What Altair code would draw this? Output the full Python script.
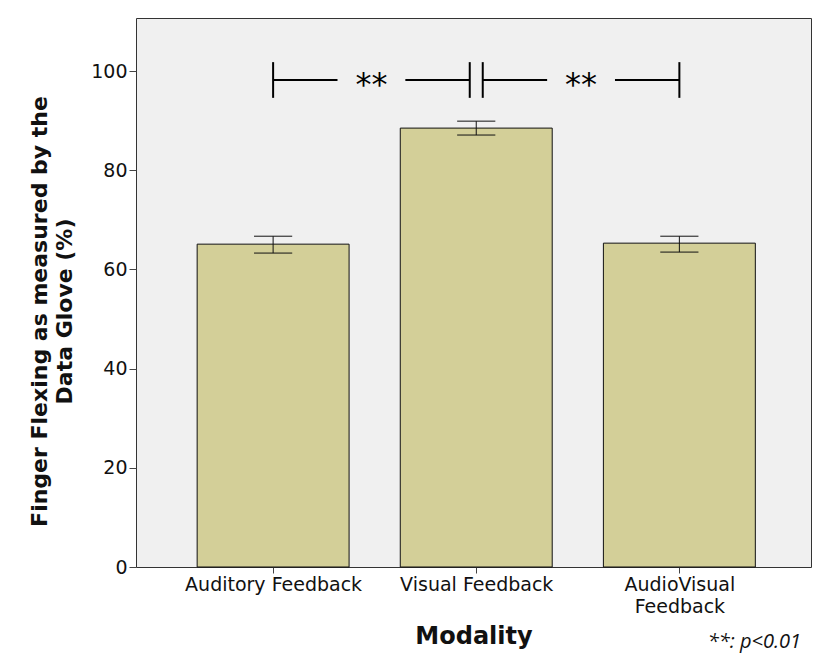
import json
import altair as alt
import pandas as pd

# ---- data ----
categories = ["Auditory Feedback", "Visual Feedback", "AudioVisual Feedback"]
axis_labels = [["Auditory Feedback"], ["Visual Feedback"], ["AudioVisual", "Feedback"]]
means = [65.1, 88.5, 65.3]
err_low = [63.3, 87.1, 63.5]
err_high = [66.7, 89.9, 66.7]
tick_values = [0, 20, 40, 60, 80, 100]

bracket_pairs = [("Auditory Feedback", "Visual Feedback"),
                 ("Visual Feedback", "AudioVisual Feedback")]
bracket_labels = ["**", "**"]
bracket_level = 98.2
bracket_tick_low = 94.6
bracket_tick_high = 101.8
footnote = "**: p<0.01"

# ---- style constants ----
BAR_HALF = 0.374
CAP_HALF = 0.094
SHARED_INSET = 0.032
TEXT_GAP_HALF = 0.167
FONT = "DejaVu Sans"
LFONT = "Open Sans"

idx = {c: i for i, c in enumerate(categories)}

bars = pd.DataFrame({
    "cat": categories,
    "pos": list(range(len(categories))),
    "mean": means,
    "low": err_low,
    "high": err_high,
})
bars["x0"] = bars["pos"] - BAR_HALF
bars["x1"] = bars["pos"] + BAR_HALF

caps = pd.concat([
    pd.DataFrame({"xa": bars["pos"] - CAP_HALF, "xb": bars["pos"] + CAP_HALF, "yv": bars["low"]}),
    pd.DataFrame({"xa": bars["pos"] - CAP_HALF, "xb": bars["pos"] + CAP_HALF, "yv": bars["high"]}),
])

# bracket geometry from category indices
ends = []
for k, (a, b) in enumerate(bracket_pairs):
    s, e = float(idx[a]), float(idx[b])
    if k > 0 and bracket_pairs[k - 1][1] == a:
        s += SHARED_INSET
    if k < len(bracket_pairs) - 1 and bracket_pairs[k + 1][0] == b:
        e -= SHARED_INSET
    ends.append((s, e))

hseg_rows, vtick_rows, text_rows = [], [], []
for (s, e), lab in zip(ends, bracket_labels):
    mid = (s + e) / 2
    hseg_rows.append({"xa": s, "xb": mid - TEXT_GAP_HALF, "yv": bracket_level})
    hseg_rows.append({"xa": mid + TEXT_GAP_HALF, "xb": e, "yv": bracket_level})
    vtick_rows.append({"xv": s, "ya": bracket_tick_low, "yb": bracket_tick_high})
    vtick_rows.append({"xv": e, "ya": bracket_tick_low, "yb": bracket_tick_high})
    text_rows.append({"xv": mid, "yv": bracket_level, "label": lab})
hseg = pd.DataFrame(hseg_rows)
vtick = pd.DataFrame(vtick_rows)
texts = pd.DataFrame(text_rows)

label_expr = json.dumps(axis_labels) + "[datum.value]"

x_scale = alt.Scale(domain=[-0.675, 2.648], nice=False, zero=False)
y_scale = alt.Scale(domain=[0, 110.7], nice=False)

x_axis = alt.Axis(values=[0, 1, 2], labelExpr=label_expr, title="Modality",
                  grid=False, domain=False, tickSize=6, tickColor="#444",
                  labelFontSize=19, labelFont=FONT, labelColor="#111",
                  labelLineHeight=22, labelPadding=2,
                  titleFontSize=24, titleFont=FONT, titleFontWeight="bold",
                  titleColor="#111", titlePadding=8)
y_axis = alt.Axis(values=tick_values, title=["Finger Flexing as measured by the", "Data Glove (%)"],
                  grid=False, domain=False, tickSize=7, tickColor="#444",
                  labelFontSize=19, labelFont=FONT, labelColor="#111", labelPadding=2,
                  titleFontSize=22, titleFont=FONT, titleFontWeight="bold",
                  titleColor="#111", titleLineHeight=25, titlePadding=14, titleY=293)


def X(field):
    return alt.X(field, type="quantitative", scale=x_scale, axis=x_axis)


def Y(field):
    return alt.Y(field, type="quantitative", scale=y_scale, axis=y_axis)


bar_layer = alt.Chart(bars).mark_bar(color="#d3cf98", stroke="#111", strokeWidth=1).encode(
    x=X("x0"), x2="x1", y=Y("mean"), y2=alt.datum(0)
)
err_layer = alt.Chart(bars).mark_rule(color="#111", strokeWidth=1).encode(
    x=X("pos"), y=Y("low"), y2="high"
)
cap_layer = alt.Chart(caps).mark_rule(color="#111", strokeWidth=1).encode(
    x=X("xa"), x2="xb", y=Y("yv")
)
hseg_layer = alt.Chart(hseg).mark_rule(color="#000", strokeWidth=2).encode(
    x=X("xa"), x2="xb", y=Y("yv")
)
vtick_layer = alt.Chart(vtick).mark_rule(color="#000", strokeWidth=2).encode(
    x=X("xv"), y=Y("ya"), y2="yb"
)
text_layer = alt.Chart(texts).mark_text(fontSize=32, font=FONT, color="#000",
                                        baseline="middle", dy=5).encode(
    x=X("xv"), y=Y("yv"), text="label"
)

chart = alt.layer(bar_layer, err_layer, cap_layer, hseg_layer, vtick_layer, text_layer).properties(
    width=675, height=549,
    padding={"left": 20, "top": 10, "right": 10, "bottom": 5},
    title=alt.TitleParams(text=footnote, orient="bottom", anchor="end", font=LFONT,
                          fontSize=20, fontStyle="italic", fontWeight="normal",
                          color="#111", offset=-16, dx=-10),
).configure_view(fill="#f0f0f0", stroke="#333", strokeWidth=1)

chart.save("out.html", embed_options={"renderer": "svg", "actions": False})
